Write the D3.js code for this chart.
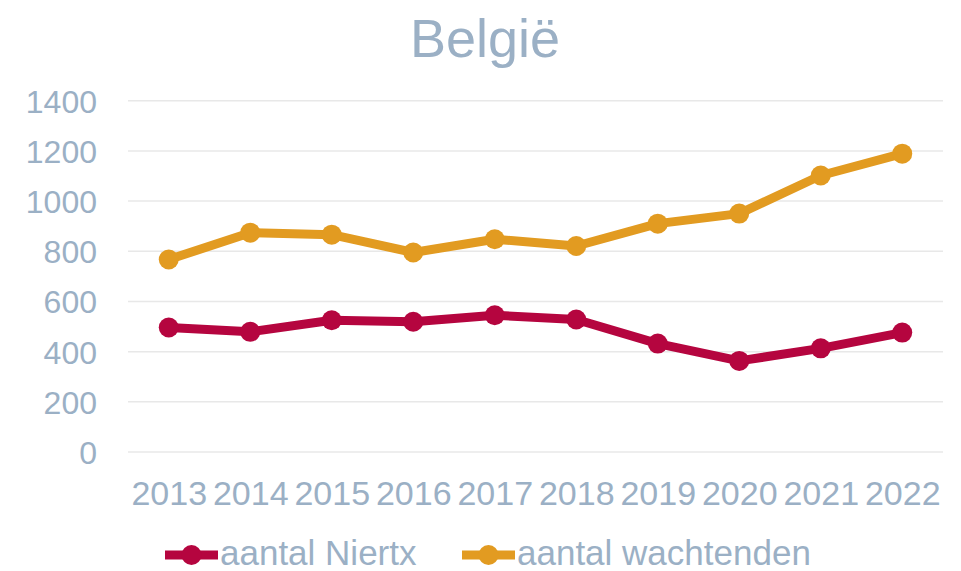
<!DOCTYPE html>
<html>
<head>
<meta charset="utf-8">
<script src="https://cdn.jsdelivr.net/npm/d3@7"></script>
<style>
  body { margin: 0; background: #fff; }
  text { font-family: "Liberation Sans", Arial, sans-serif; fill: #9BB0C5; }
</style>
</head>
<body>
<svg width="961" height="571"></svg>
<script>
var years = ["2013", "2014", "2015", "2016", "2017", "2018", "2019", "2020", "2021", "2022"]
var niertx = [496, 479, 525, 519, 545, 528, 432, 363, 413, 476]
var wachtenden = [767, 874, 866, 795, 848, 821, 910, 950, 1102, 1189]
var yTicks = [0, 200, 400, 600, 800, 1000, 1200, 1400]

var series = [
    {name: "aantal Niertx", values: niertx, color: "#B5053F"},
    {name: "aantal wachtenden", values: wachtenden, color: "#E29B21"}
]

var svg = d3.select("svg")

var x = d3.scalePoint().domain(years).range([128, 943]).padding(0.5),
    y = d3.scaleLinear().domain([0, 1400]).range([452, 100.7])

// titel
svg.append("text").attr("x", 485).attr("y", 57)
    .attr("text-anchor", "middle").attr("font-size", 54).text("België")

// gridlijnen
svg.selectAll("line.grid").data(yTicks).enter().append("line")
    .attr("class", "grid")
    .attr("x1", 128).attr("x2", 943)
    .attr("y1", d => y(d)).attr("y2", d => y(d))
    .attr("stroke", "#E8E8E8").attr("stroke-width", 1.5)

// y as
var yAxis = svg.append("g").attr("transform", "translate(97,0)")
    .call(d3.axisLeft(y).tickValues(yTicks).tickFormat(d3.format("d")).tickSize(0).tickPadding(0))
yAxis.select(".domain").remove()
yAxis.attr("font-family", null).attr("font-size", null)
yAxis.selectAll("text").attr("font-size", 32).attr("fill", null).attr("dy", "0.36em")

// x as
var xAxis = svg.append("g").attr("transform", "translate(0,452)")
    .call(d3.axisBottom(x).tickSize(0).tickPadding(0))
xAxis.select(".domain").remove()
xAxis.attr("font-family", null).attr("font-size", null)
xAxis.selectAll("text").attr("font-size", 34).attr("fill", null)
    .attr("dy", null).attr("y", 53)

var line = d3.line().x((d, i) => x(years[i])).y(d => y(d))

series.forEach(function (s) {
    svg.append("path").datum(s.values)
        .attr("d", line).attr("fill", "none")
        .attr("stroke", s.color).attr("stroke-width", 9)
        .attr("stroke-linejoin", "round")
    svg.selectAll(null).data(s.values).enter().append("circle")
        .attr("cx", (d, i) => x(years[i])).attr("cy", d => y(d))
        .attr("r", 10).attr("fill", s.color)
})

// legende
var legX = [165, 462]
series.forEach(function (s, i) {
    var g = svg.append("g").attr("transform", "translate(" + legX[i] + ",555)")
    g.append("line").attr("x1", 0).attr("x2", 53)
        .attr("stroke", s.color).attr("stroke-width", 9)
    g.append("circle").attr("cx", 26.5).attr("r", 10).attr("fill", s.color)
    g.append("text").attr("x", 55).attr("y", 10)
        .attr("font-size", 35).text(s.name)
})
</script>
</body>
</html>
